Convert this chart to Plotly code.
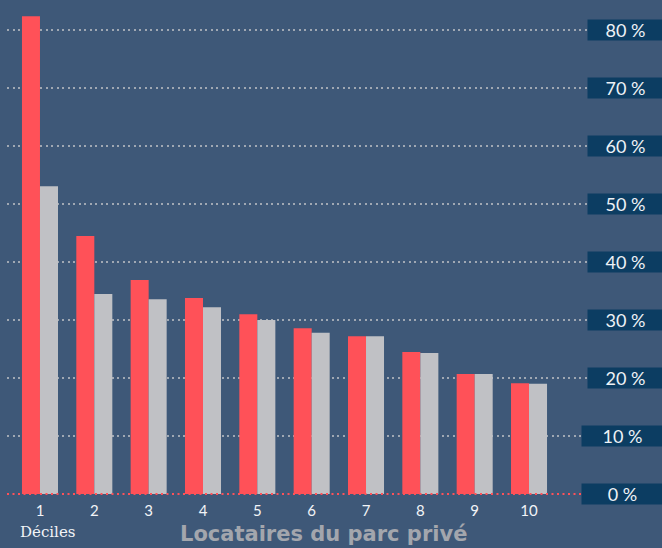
import plotly.graph_objects as go

deciles = ["1", "2", "3", "4", "5", "6", "7", "8", "9", "10"]
serie_rouge = [82.4, 44.5, 36.9, 33.8, 31.0, 28.6, 27.2, 24.5, 20.7, 19.1]
serie_grise = [53.1, 34.5, 33.6, 32.2, 30.0, 27.8, 27.2, 24.3, 20.7, 19.0]
y_ticks = [0, 10, 20, 30, 40, 50, 60, 70, 80]
y_tick_labels = [f"{v} %" for v in y_ticks]

BG = "#3e5878"
RED = "#ff5158"
GREY = "#c0c1c5"
BOX = "#0c3d62"
GRID = "#a0a8b3"

x_idx = list(range(len(deciles)))

fig = go.Figure()
fig.add_trace(go.Bar(x=x_idx, y=serie_rouge, marker=dict(color=RED, line=dict(width=0)),
                     hoverinfo="y", showlegend=False))
fig.add_trace(go.Bar(x=x_idx, y=serie_grise, marker=dict(color=GREY, line=dict(width=0)),
                     hoverinfo="y", showlegend=False))

fig.update_layout(
    width=662, height=548,
    margin=dict(l=7, r=75, t=7, b=52),
    paper_bgcolor=BG, plot_bgcolor=BG,
    barmode="group", bargap=0.337, bargroupgap=0,
    xaxis=dict(range=[-0.607, 10.067], tickmode="array", tickvals=x_idx, ticktext=deciles,
               showgrid=False, zeroline=False, showline=False, ticks="",
               ticklabelstandoff=4,
               tickfont=dict(family="Lato", size=15, color="#f2f4f7")),
    yaxis=dict(range=[-0.35, 84], tickvals=[v for v in y_ticks if v > 0], showticklabels=False,
               showgrid=True, gridcolor=GRID, gridwidth=2, griddash="2px,3.5px",
               zeroline=False, showline=False),
    font=dict(family="Lato"),
)

# red dotted baseline
fig.add_shape(type="line", xref="paper", yref="y", x0=0, x1=1, y0=0, y1=0,
              line=dict(color=RED, width=2, dash="2px,3.5px"), layer="above")

for v, lab in zip(y_ticks, y_tick_labels):
    wide = v in (0, 10)
    fig.add_annotation(xref="paper", yref="y", x=1, y=v, xanchor="left", yanchor="middle",
                       xshift=-6 if wide else 0,
                       text=lab, showarrow=False, bgcolor=BOX, borderpad=0,
                       width=81 if wide else 75, height=20, align="center",
                       font=dict(family="Lato", size=18, color="#eef2f6"))

fig.add_annotation(xref="paper", yref="paper", x=0.019, y=-0.074, xanchor="left", yanchor="middle",
                   text="Déciles", showarrow=False,
                   font=dict(family="DejaVu Serif", size=15, color="#f2f4f7"))
fig.add_annotation(xref="paper", yref="paper", x=0.545, y=-0.077, xanchor="center", yanchor="middle",
                   text="<b>Locataires du parc privé</b>", showarrow=False,
                   font=dict(family="DejaVu Sans", size=21, color="#a3a6ad"))

fig.write_html("out.html", config={"displayModeBar": False},
               post_script="document.body.style.margin='0';document.body.style.overflow='hidden';")
